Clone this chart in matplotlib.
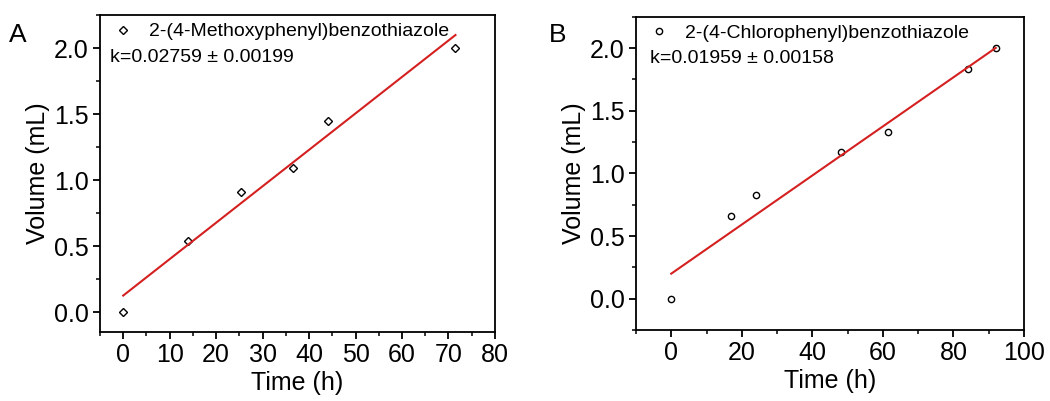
import numpy as np
import matplotlib
matplotlib.use("Agg")
import matplotlib.pyplot as plt
from matplotlib.ticker import MultipleLocator

plt.rcParams['font.family'] = ['Liberation Sans', 'DejaVu Sans']

# panel A: 2-(4-Methoxyphenyl)benzothiazole
time_a = [0, 14, 25.3, 36.5, 44, 71.5]
vol_a = [0.0, 0.54, 0.91, 1.09, 1.45, 2.0]
k_a, b_a = 0.02759, 0.126

# panel B: 2-(4-Chlorophenyl)benzothiazole
time_b = [0, 17, 24, 48, 61.5, 84, 92]
vol_b = [0.0, 0.66, 0.83, 1.17, 1.33, 1.83, 2.0]
k_b, b_b = 0.01959, 0.20

fig = plt.figure(figsize=(10.5, 4.01), dpi=100)
axA = fig.add_axes([0.0952, 0.172, 0.3762, 0.7905])
axB = fig.add_axes([0.6057, 0.177, 0.3695, 0.781])


def style(ax, xmaj, xmin):
    for s in ax.spines.values():
        s.set_linewidth(1.3)
    ax.xaxis.set_major_locator(MultipleLocator(xmaj))
    ax.xaxis.set_minor_locator(MultipleLocator(xmin))
    ax.yaxis.set_major_locator(MultipleLocator(0.5))
    ax.yaxis.set_minor_locator(MultipleLocator(0.25))
    ax.tick_params(which='major', direction='out', length=5, width=1.3, labelsize=18, pad=3)
    ax.tick_params(which='minor', direction='out', length=3, width=1.1)
    ax.set_xlabel('Time (h)', fontsize=18, labelpad=3)
    ax.set_ylabel('Volume (mL)', fontsize=18, labelpad=3)


# A
axA.plot(time_a, vol_a, 'D', ms=4.5, mfc='white', mec='black', mew=1.0, ls='none',
         label='2-(4-Methoxyphenyl)benzothiazole')
xa = np.array([0, 71.5])
axA.plot(xa, b_a + k_a * xa, color='#d42020', lw=1.5)
axA.set_xlim(-5, 80)
axA.set_ylim(-0.15, 2.25)
style(axA, 10, 5)
axA.legend(loc='upper left', frameon=False, fontsize=14, handletextpad=0.5,
           borderaxespad=0.05, borderpad=0.35, handlelength=1.6)
axA.text(0.025, 0.852, 'k=0.02759 ± 0.00199', transform=axA.transAxes, fontsize=14)
fig.text(0.009, 0.895, 'A', fontsize=19)

# B
axB.plot(time_b, vol_b, 'o', ms=4.5, mfc='white', mec='black', mew=1.0, ls='none',
         label='2-(4-Chlorophenyl)benzothiazole')
xb = np.array([0, 92])
axB.plot(xb, b_b + k_b * xb, color='#d42020', lw=1.5)
axB.set_xlim(-10, 100)
axB.set_ylim(-0.25, 2.25)
style(axB, 20, 10)
axB.legend(loc='upper left', frameon=False, fontsize=14, handletextpad=0.5,
           borderaxespad=0.05, borderpad=0.35, handlelength=1.6)
axB.text(0.035, 0.852, 'k=0.01959 ± 0.00158', transform=axB.transAxes, fontsize=14)
fig.text(0.523, 0.895, 'B', fontsize=19)

fig.savefig('out.png', dpi=100)
